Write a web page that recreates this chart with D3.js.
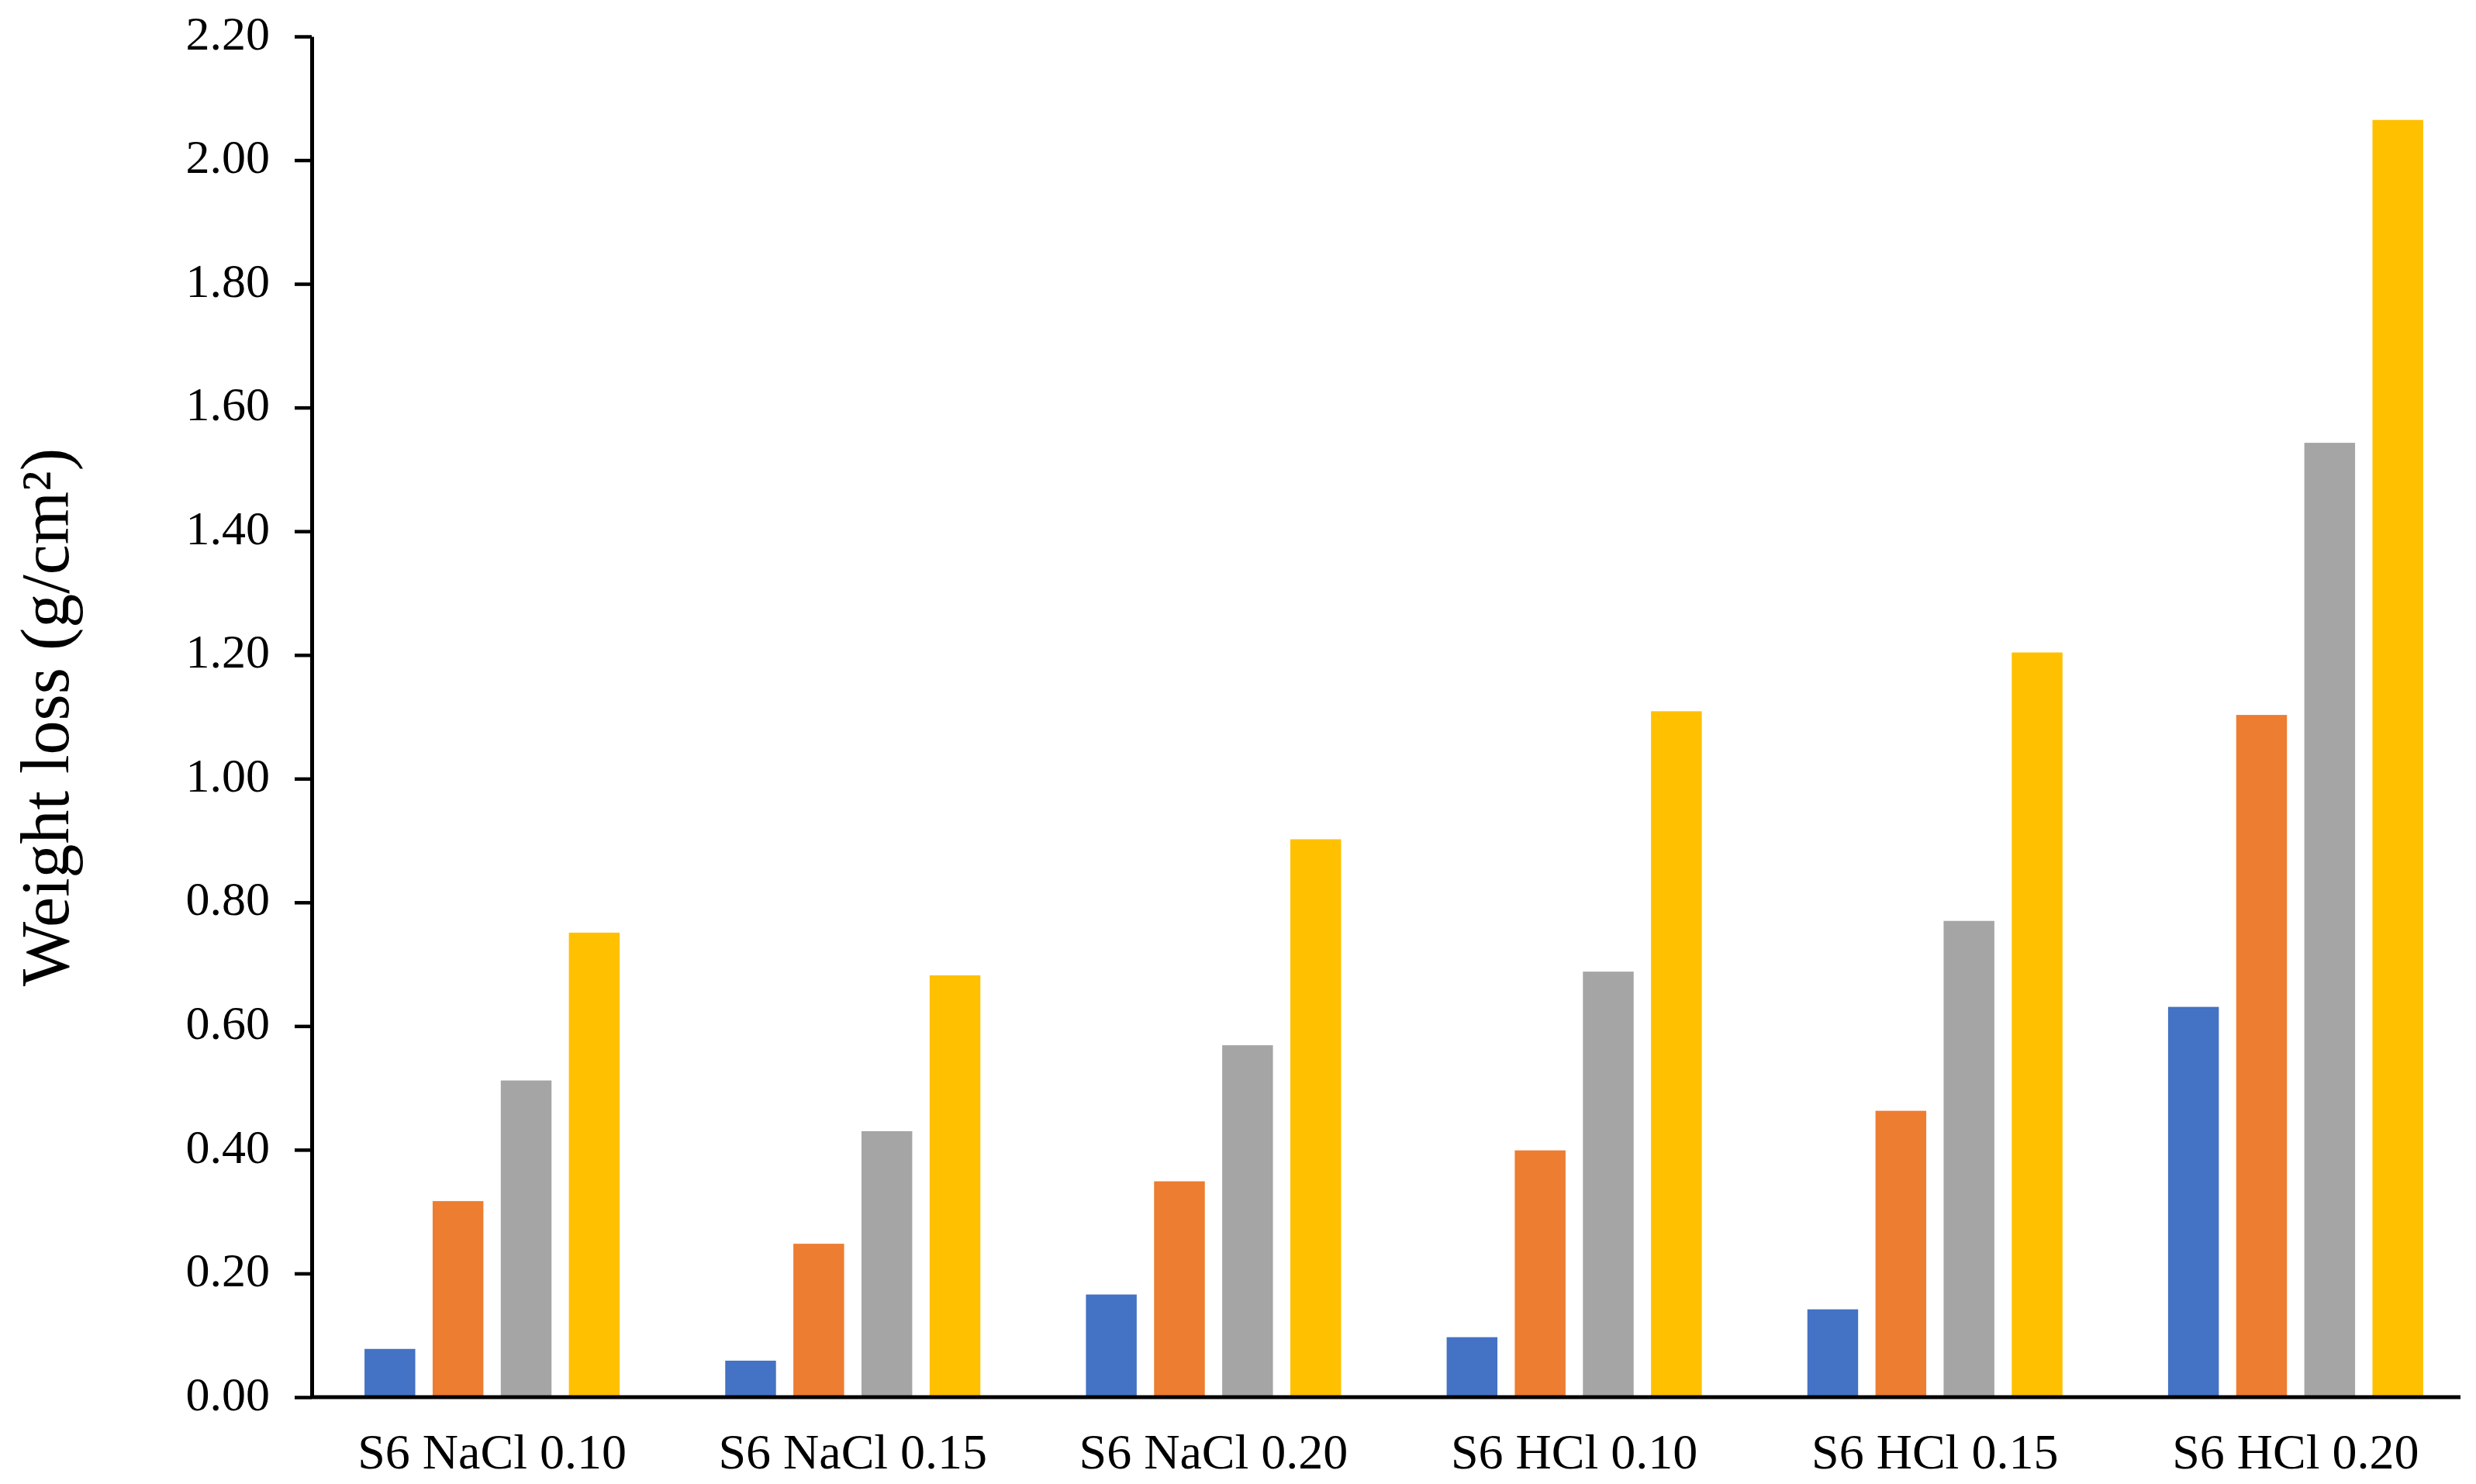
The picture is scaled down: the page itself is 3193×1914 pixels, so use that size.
<!DOCTYPE html>
<html>
<head>
<meta charset="utf-8">
<script src="https://cdn.jsdelivr.net/npm/d3@7"></script>
<style>
  body { margin: 0; background: #fff; }
  text { font-family: "Liberation Serif", "Times New Roman", serif; fill: #000; }
</style>
</head>
<body>
<div id="chart"></div>
<script>
var categories = ["S6 NaCl 0.10", "S6 NaCl 0.15", "S6 NaCl 0.20", "S6 HCl 0.10", "S6 HCl 0.15", "S6 HCl 0.20"];
var seriesNames = ["s1", "s2", "s3", "s4"];
var seriesColors = ["#4472C4", "#ED7D31", "#A5A5A5", "#FFC000"];

// one array per series, in category order
var s1 = [0.078, 0.059, 0.166, 0.097, 0.142, 0.631];
var s2 = [0.317, 0.248, 0.349, 0.399, 0.463, 1.103];
var s3 = [0.512, 0.430, 0.569, 0.688, 0.770, 1.543];
var s4 = [0.751, 0.682, 0.902, 1.109, 1.204, 2.065];
var yTicks = [0, 0.2, 0.4, 0.6, 0.8, 1.0, 1.2, 1.4, 1.6, 1.8, 2.0, 2.2];

var svgWidth = 3193;
var svgHeight = 1914;
var margin = { top: 47, right: 0, bottom: 112, left: 402 };
var width = svgWidth - margin.left - margin.right;
var height = svgHeight - margin.top - margin.bottom;
var axisEnd = 3173 - margin.left; // x axis line stops a little short of the edge

var svg = d3.select("#chart")
    .append("svg")
    .attr("width", svgWidth)
    .attr("height", svgHeight);

svg.append("rect").attr("width", svgWidth).attr("height", svgHeight).attr("fill", "#fff");

var chartGroup = svg.append("g")
    .attr("transform", `translate(${margin.left}, ${margin.top})`);

var allSeries = [s1, s2, s3, s4];
var rows = categories.map(function(c, i) {
    return { cat: c, vals: seriesNames.map(function(s, j) { return { key: s, idx: j, v: allSeries[j][i] }; }) };
});

var x0 = d3.scaleBand().domain(categories).range([0, width]);
var groupWidth = 329;
var x1 = d3.scaleBand().domain(seriesNames)
    .range([(x0.bandwidth() - groupWidth) / 2, (x0.bandwidth() + groupWidth) / 2])
    .paddingInner(0.255);
var y = d3.scaleLinear().domain([0, 2.2]).range([height, 0]);

// bars
var groups = chartGroup.selectAll(".grp")
    .data(rows)
    .enter()
    .append("g")
    .attr("transform", d => `translate(${x0(d.cat)},0)`);

groups.selectAll("rect")
    .data(d => d.vals)
    .enter()
    .append("rect")
    .attr("x", d => x1(d.key))
    .attr("width", x1.bandwidth())
    .attr("y", d => y(d.v))
    .attr("height", d => height - y(d.v))
    .attr("fill", d => seriesColors[d.idx]);

// y axis
var leftAxis = d3.axisLeft(y)
    .tickValues(yTicks)
    .tickFormat(d3.format(".2f"))
    .tickSize(22)
    .tickSizeOuter(0)
    .tickPadding(32);

var yAxisG = chartGroup.append("g").call(leftAxis);
yAxisG.select(".domain").attr("stroke", "#000").attr("stroke-width", 5);
yAxisG.selectAll(".tick line").attr("stroke", "#000").attr("stroke-width", 4.5);
yAxisG.selectAll(".tick text")
    .attr("font-size", 62)
    .attr("font-family", "Liberation Serif")
    .attr("fill", "#000")
    .attr("dy", "0.26em");

// x axis
var bottomAxis = d3.axisBottom(x0).tickSize(0).tickSizeOuter(0);
var xAxisG = chartGroup.append("g")
    .attr("transform", `translate(0,${height})`)
    .call(bottomAxis);
xAxisG.select(".domain")
    .attr("d", `M0,0H${axisEnd}`)
    .attr("stroke", "#000")
    .attr("stroke-width", 5);
xAxisG.selectAll(".tick text")
    .attr("font-size", 64)
    .attr("font-family", "Liberation Serif")
    .attr("fill", "#000")
    .attr("y", 92)
    .attr("dy", null);

// axis title
svg.append("text")
    .attr("transform", "translate(88, 925) rotate(-90)")
    .style("text-anchor", "middle")
    .attr("font-size", 88)
    .text("Weight loss (g/cm²)");
</script>
</body>
</html>
